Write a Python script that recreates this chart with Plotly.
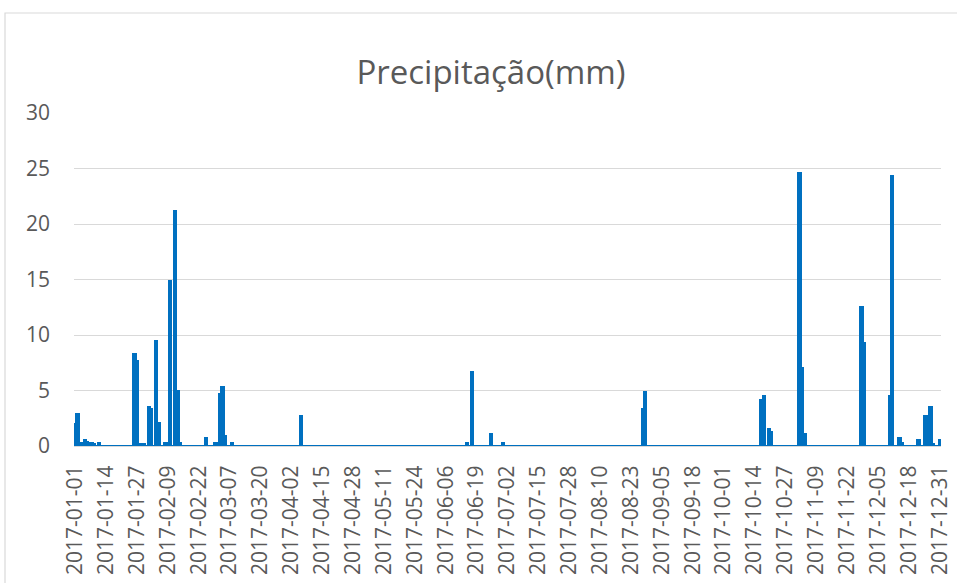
import pandas as pd
import plotly.graph_objects as go

# Daily precipitation 2017 (only rainy days listed; all others are 0 mm)
rain_dates = [
    "2017-01-01", "2017-01-02", "2017-01-03", "2017-01-04", "2017-01-05", "2017-01-06",
    "2017-01-07", "2017-01-08", "2017-01-09", "2017-01-11",
    "2017-01-26", "2017-01-27", "2017-01-28", "2017-01-30", "2017-02-01", "2017-02-02",
    "2017-02-04", "2017-02-05", "2017-02-08", "2017-02-10",
    "2017-02-12", "2017-02-13", "2017-02-14",
    "2017-02-25", "2017-03-01", "2017-03-03", "2017-03-04", "2017-03-05", "2017-03-08",
    "2017-04-06",
    "2017-06-15", "2017-06-17", "2017-06-25", "2017-06-30",
    "2017-08-28", "2017-08-29",
    "2017-10-17", "2017-10-18", "2017-10-20", "2017-10-21",
    "2017-11-02", "2017-11-03", "2017-11-04",
    "2017-11-28", "2017-11-29",
    "2017-12-10", "2017-12-11", "2017-12-14", "2017-12-15",
    "2017-12-22", "2017-12-25", "2017-12-27", "2017-12-28",
    "2017-12-31",
]
rain_mm = [
    2.0, 2.9, 0.3, 0.3, 0.5, 0.4,
    0.3, 0.3, 0.2, 0.3,
    8.3, 7.7, 0.2, 0.2, 3.5, 3.3,
    9.5, 2.1, 0.3, 14.9,
    21.2, 5.0, 0.3,
    0.7, 0.3, 4.7, 5.3, 0.9, 0.3,
    2.7,
    0.3, 6.7, 1.1, 0.3,
    3.3, 4.9,
    4.1, 4.5, 1.5, 1.3,
    24.6, 7.0, 1.1,
    12.5, 9.3,
    4.5, 24.3, 0.7, 0.3,
    0.5, 2.7, 3.5, 0.2,
    0.5,
]

all_days = [d.strftime("%Y-%m-%d") for d in pd.date_range("2017-01-01", "2017-12-31", freq="D")]
rain_lookup = dict(zip(rain_dates, rain_mm))
daily_mm = [rain_lookup.get(d, 0.0) for d in all_days]

tick_labels = all_days[::13]

FONT = "Open Sans"
GREY_TXT = "#595959"
GRID = "#D9D9D9"
BLUE = "#0070C0"

fig = go.Figure(
    go.Bar(x=all_days, y=daily_mm, marker=dict(color=BLUE, line=dict(width=2, color=BLUE)))
)

fig.update_layout(
    width=957, height=583,
    paper_bgcolor="white", plot_bgcolor="white",
    margin=dict(l=74, r=16, t=113, b=137, pad=0, autoexpand=False),
    bargap=0.0,
    showlegend=False,
    font=dict(family=FONT, color=GREY_TXT),
    title=dict(
        text="Precipitação(mm)",
        font=dict(family=FONT, size=33, color=GREY_TXT),
        x=491 / 957, xref="container", xanchor="center",
        y=1 - 72 / 583, yref="container", yanchor="middle",
    ),
    xaxis=dict(
        type="category",
        range=[-0.5, len(all_days) - 0.5],
        tickmode="array", tickvals=tick_labels, ticktext=tick_labels,
        tickangle=-90,
        tickfont=dict(family=FONT, size=21, color=GREY_TXT),
        showgrid=False,
        showline=True, linecolor=GRID, linewidth=1,
        ticks="", ticklabelstandoff=10,
        automargin=False,
        fixedrange=True,
    ),
    yaxis=dict(
        range=[0, 30], dtick=5,
        tickfont=dict(family=FONT, size=21, color=GREY_TXT),
        showgrid=True, gridcolor=GRID, gridwidth=1,
        zeroline=False, showline=False,
        ticks="", ticklabelstandoff=23,
        automargin=False,
        fixedrange=True,
    ),
    shapes=[
        dict(type="rect", xref="paper", yref="paper",
             x0=(5 - 74) / 867, x1=1.3, y0=-0.8, y1=(446 - 13) / 333,
             line=dict(color=GRID, width=1.2), fillcolor="rgba(0,0,0,0)", layer="below"),
    ],
)

fig.write_html("out.html")
